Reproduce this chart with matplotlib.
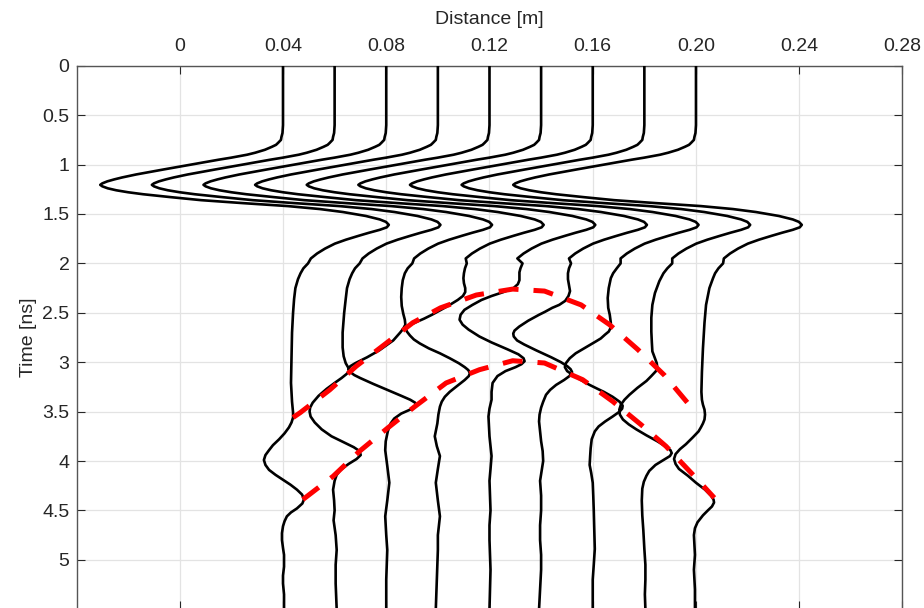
import numpy as np
import matplotlib.pyplot as plt

plt.rcParams['font.family'] = ['Liberation Sans', 'DejaVu Sans']

# antenna positions of the nine traces (m)
trace_pos = [0.04, 0.06, 0.08, 0.10, 0.12, 0.14, 0.16, 0.18, 0.20]

# direct wave, the same on every trace: time (ns) and wiggle offset (mm)
direct_t = [0.00, 0.60, 0.68, 0.72, 0.75, 0.78, 0.80, 0.82, 0.85, 0.88,
            0.90, 0.93, 0.95, 0.98, 1.00, 1.05, 1.10, 1.13, 1.15, 1.17,
            1.19, 1.205, 1.22, 1.24, 1.26, 1.28, 1.30, 1.33, 1.36, 1.39,
            1.42, 1.45, 1.48, 1.52, 1.555, 1.58, 1.61, 1.635, 1.66, 1.69,
            1.72, 1.76, 1.80, 1.85, 1.90, 1.95]
direct_mm = [0.0, 0.0, -0.2, -0.6, -0.8, -1.9, -2.7, -4.3, -7.0, -10.8,
             -13.9, -20.1, -24.8, -31.3, -35.6, -46.4, -56.9, -62.3, -65.4, -68.1,
             -70.0, -70.8, -70.0, -67.9, -64.6, -60.0, -54.2, -43.3, -31.7, -15.5,
             1.9, 14.3, 23.2, 32.1, 37.5, 39.9, 41.0, 40.2, 37.5, 33.3,
             29.4, 24.4, 20.1, 16.3, 13.2, 10.8]

# late part of each trace (t >= 2 ns), with the reflections
late_t = [
    [2.00, 2.05, 2.10, 2.16, 2.25, 2.36, 2.50, 2.70, 2.95, 3.21, 3.40, 3.51, 3.56, 3.61, 3.66,
     3.72, 3.78, 3.84, 3.89, 3.94, 3.99, 4.04, 4.09, 4.14, 4.19, 4.24, 4.29, 4.34, 4.39, 4.43,
     4.48, 4.52, 4.56, 4.61, 4.66, 4.73, 4.80, 4.88, 4.95, 5.07, 5.16, 5.24, 5.35, 5.50],
    [2.00, 2.05, 2.10, 2.16, 2.25, 2.36, 2.50, 2.70, 2.85, 2.94, 3.01, 3.06, 3.09, 3.12, 3.16,
     3.21, 3.27, 3.34, 3.41, 3.46, 3.50, 3.55, 3.61, 3.68, 3.75, 3.81, 3.86, 3.90, 3.94, 3.98,
     4.03, 4.09, 4.14, 4.20, 4.29, 4.40, 4.50, 4.60, 4.75, 4.90, 5.05, 5.24, 5.50],
    [2.00, 2.05, 2.10, 2.17, 2.25, 2.34, 2.43, 2.51, 2.57, 2.62, 2.66, 2.70, 2.78, 2.88, 2.95,
     3.01, 3.04, 3.07, 3.10, 3.13, 3.16, 3.22, 3.28, 3.34, 3.38, 3.41, 3.44, 3.47, 3.52, 3.57,
     3.62, 3.70, 3.80, 3.89, 4.05, 4.22, 4.40, 4.56, 4.75, 4.90, 5.20, 5.50],
    [2.00, 2.05, 2.10, 2.15, 2.20, 2.25, 2.29, 2.33, 2.37, 2.42, 2.47, 2.52, 2.56, 2.60, 2.63,
     2.66, 2.69, 2.73, 2.77, 2.81, 2.86, 2.91, 2.96, 3.01, 3.05, 3.08, 3.11, 3.14, 3.18, 3.25,
     3.30, 3.35, 3.40, 3.45, 3.53, 3.62, 3.75, 3.85, 3.95, 4.08, 4.22, 4.40, 4.56, 4.75, 4.90,
     5.20, 5.50],
    [2.00, 2.05, 2.09, 2.13, 2.17, 2.21, 2.25, 2.29, 2.33, 2.37, 2.42, 2.47, 2.52, 2.57, 2.62,
     2.67, 2.74, 2.80, 2.87, 2.92, 2.96, 2.99, 3.02, 3.05, 3.09, 3.14, 3.21, 3.30, 3.38, 3.47,
     3.55, 3.65, 3.75, 3.85, 3.95, 4.08, 4.20, 4.35, 4.50, 4.65, 4.80, 5.10, 5.50],
    [2.00, 2.05, 2.10, 2.16, 2.22, 2.28, 2.33, 2.38, 2.42, 2.45, 2.49, 2.52, 2.58, 2.64, 2.68,
     2.71, 2.74, 2.78, 2.82, 2.88, 2.95, 3.00, 3.04, 3.07, 3.10, 3.14, 3.18, 3.23, 3.28, 3.33,
     3.40, 3.46, 3.53, 3.60, 3.70, 3.80, 3.90, 4.00, 4.10, 4.20, 4.35, 4.50, 4.65, 4.80, 4.95,
     5.10, 5.30, 5.50],
    [2.00, 2.05, 2.10, 2.15, 2.25, 2.35, 2.45, 2.52, 2.60, 2.65, 2.69, 2.72, 2.76, 2.79, 2.85,
     2.91, 2.96, 3.01, 3.05, 3.09, 3.13, 3.18, 3.23, 3.27, 3.30, 3.35, 3.40, 3.44, 3.47, 3.50,
     3.55, 3.60, 3.65, 3.70, 3.78, 3.87, 3.95, 4.04, 4.12, 4.22, 4.35, 4.50, 4.70, 4.89, 5.05,
     5.20, 5.50],
    [2.00, 2.05, 2.10, 2.18, 2.30, 2.42, 2.55, 2.69, 2.80, 2.89, 2.96, 3.01, 3.05, 3.09, 3.14,
     3.19, 3.26, 3.33, 3.38, 3.43, 3.48, 3.53, 3.58, 3.63, 3.68, 3.74, 3.80, 3.85, 3.89, 3.92,
     3.95, 3.99, 4.04, 4.10, 4.15, 4.21, 4.28, 4.40, 4.55, 4.70, 4.89, 5.05, 5.20, 5.35, 5.50],
    [2.00, 2.05, 2.10, 2.15, 2.25, 2.42, 2.60, 2.86, 3.10, 3.30, 3.38, 3.43, 3.48, 3.53, 3.58,
     3.62, 3.66, 3.70, 3.76, 3.83, 3.88, 3.93, 3.98, 4.03, 4.08, 4.15, 4.22, 4.29, 4.35, 4.39,
     4.42, 4.46, 4.50, 4.55, 4.62, 4.68, 4.75, 4.85, 4.95, 5.10, 5.30, 5.50],
]
late_mm = [
    [9.7, 7.9, 6.8, 5.8, 4.8, 4.3, 3.9, 3.5, 3.3, 3.1, 3.5, 3.9, 3.9, 3.3, 2.3,
     0.6, -1.5, -3.9, -5.4, -6.8, -7.4, -6.8, -5.4, -2.9, 0.0, 2.9, 5.4, 7.4, 8.1, 7.5,
     5.4, 3.1, 1.5, 0.6, 0.0, -0.4, -0.4, 0.0, 0.4, 0.4, 0.0, 0.0, 0.4, 0.4],
    [9.7, 7.9, 6.8, 5.8, 4.8, 4.3, 3.7, 3.1, 3.1, 3.5, 4.3, 5.4, 5.6, 4.6, 2.7,
     0.0, -3.1, -6.2, -8.5, -9.5, -9.7, -9.3, -7.7, -5.0, -1.2, 3.5, 7.4, 9.7, 10.1, 8.5,
     5.4, 2.3, 0.8, 0.0, -0.6, -0.2, 0.0, -0.4, 0.4, 0.8, 0.4, 0.4, 0.8],
    [10.1, 8.3, 7.2, 6.4, 6.0, 5.8, 6.0, 6.6, 7.2, 7.4, 6.6, 5.4, 2.7, -2.7, -7.4,
     -12.0, -13.9, -14.7, -13.9, -12.4, -10.1, -5.0, 0.4, 5.8, 9.3, 11.2, 11.6, 10.1, 5.8, 3.1,
     1.7, 0.6, -0.2, -0.4, 0.4, 1.2, 0.4, -0.4, 0.0, 0.4, 0.0, 0.0],
    [11.2, 10.5, 10.1, 9.9, 10.1, 10.6, 10.6, 9.7, 7.7, 4.6, 1.2, -2.3, -5.4, -8.9, -11.2,
     -12.4, -12.0, -10.8, -9.3, -7.0, -3.5, 0.8, 4.6, 8.1, 10.4, 11.8, 12.4, 12.0, 10.4, 7.0,
     4.6, 2.7, 1.5, 0.8, 0.2, -0.2, -1.2, -0.4, 0.8, 0.0, -0.8, 0.0, 0.8, 0.0, 0.0,
     -0.4, -0.8],
    [12.8, 12.0, 11.6, 11.6, 11.6, 11.0, 9.3, 5.4, 0.8, -3.1, -6.6, -9.7, -11.2, -11.6, -10.4,
     -8.1, -3.9, 0.8, 7.0, 11.2, 13.2, 13.6, 12.4, 10.1, 6.2, 3.1, 1.2, 0.8, 0.8, 0.0,
     -0.4, -0.2, 0.0, 0.4, 0.8, 0.4, 0.0, 0.2, 0.4, 0.0, 0.0, 0.4, 0.0],
    [11.6, 10.8, 10.4, 10.4, 10.8, 11.2, 10.6, 9.3, 7.0, 4.3, 1.5, -0.8, -5.0, -8.5, -10.3,
     -10.8, -10.6, -9.3, -6.6, -1.9, 3.9, 7.7, 10.1, 11.4, 12.0, 11.0, 8.9, 5.8, 3.5, 1.9,
     0.8, 0.0, -0.6, -0.8, -0.4, 0.0, 0.6, 0.8, 0.2, -0.4, 0.0, 0.0, -0.4, -0.4, 0.0,
     0.0, -0.4, -0.8],
    [10.8, 9.3, 7.9, 7.0, 6.2, 5.8, 6.0, 6.6, 7.0, 7.0, 6.2, 4.8, 3.1, 1.2, -2.7,
     -6.6, -8.9, -10.4, -10.8, -9.9, -7.7, -4.6, -1.2, 1.9, 4.3, 7.7, 10.4, 11.6, 11.4, 10.4,
     7.7, 4.8, 2.3, 0.8, -0.4, -0.8, -1.0, -1.2, -0.6, 0.0, 0.2, 0.4, 0.6, 0.8, 0.4,
     0.0, 0.0],
    [10.8, 8.9, 7.4, 5.8, 4.1, 3.1, 2.7, 2.7, 2.9, 3.1, 4.1, 4.8, 5.0, 4.5, 2.7,
     0.8, -2.7, -5.8, -7.7, -9.1, -9.7, -9.5, -8.3, -6.0, -3.1, 0.8, 5.0, 8.1, 10.1, 10.6,
     9.9, 7.4, 4.3, 1.9, 0.8, -0.2, -0.8, -1.0, -0.8, -0.4, 0.0, 0.4, 0.4, 0.2, 0.4],
    [10.5, 8.7, 7.4, 6.6, 5.2, 3.9, 3.3, 2.7, 2.3, 2.1, 2.3, 2.7, 3.3, 3.5, 3.3,
     2.7, 1.9, 1.0, -1.2, -3.9, -6.2, -7.9, -8.5, -7.9, -6.6, -3.1, 0.0, 3.5, 5.8, 6.8,
     7.0, 6.2, 4.6, 2.7, 0.6, -0.4, -0.8, -0.6, -0.4, -0.8, -0.4, -0.4],
]

# picked reflection hyperbolas (distance m, time ns)
upper_x = [0.0439, 0.0467, 0.0581, 0.0684, 0.0794, 0.0903, 0.1010, 0.1149,
           0.1290, 0.1413, 0.1555, 0.1665, 0.1774, 0.1877, 0.1967, 0.1987]
upper_t = [3.56, 3.51, 3.28, 3.04, 2.82, 2.60, 2.45, 2.32,
           2.26, 2.28, 2.42, 2.62, 2.87, 3.13, 3.41, 3.48]
lower_x = [0.0477, 0.0594, 0.0697, 0.0806, 0.0910, 0.1032, 0.1161, 0.1290,
           0.1413, 0.1561, 0.1677, 0.1787, 0.1884, 0.2006, 0.2071]
lower_t = [4.39, 4.155, 3.90, 3.665, 3.45, 3.21, 3.076, 2.985,
           3.008, 3.177, 3.396, 3.632, 3.851, 4.188, 4.373]

xtick_vals = [0, 0.04, 0.08, 0.12, 0.16, 0.20, 0.24, 0.28]
xtick_labels = ['0', '0.04', '0.08', '0.12', '0.16', '0.20', '0.24', '0.28']
ytick_vals = [0, 0.5, 1, 1.5, 2, 2.5, 3, 3.5, 4, 4.5, 5]
ytick_labels = ['0', '0.5', '1', '1.5', '2', '2.5', '3', '3.5', '4', '4.5', '5']

fig = plt.figure(figsize=(9.24, 6.08), dpi=100)
ax = fig.add_axes([0.0828, -0.002, 0.8939, 0.8938])

for i, pos in enumerate(trace_pos):
    t = np.array(direct_t + late_t[i])
    x = pos + np.array(direct_mm + late_mm[i]) / 1000.0
    ax.plot(x, t, color='black', lw=1.9, solid_joinstyle='round', zorder=3)

dash_style = (0, (4.0, 3.0))
ax.plot(upper_x, upper_t, color='red', lw=3.6, linestyle=dash_style, zorder=4)
ax.plot(lower_x, lower_t, color='red', lw=3.6, linestyle=dash_style, zorder=4)

ax.set_xlim(-0.04, 0.28)
ax.set_ylim(5.5, 0)
ax.set_xticks(xtick_vals)
ax.set_xticklabels(xtick_labels)
ax.set_yticks(ytick_vals)
ax.set_yticklabels(ytick_labels)
ax.xaxis.set_label_position('top')
ax.set_xlabel('Distance [m]', fontsize=14, color='#262626', labelpad=10)
ax.set_ylabel('Time [ns]', fontsize=14, color='#262626', labelpad=4)

ax.tick_params(axis='both', direction='in', length=6, width=0.8, colors='#262626',
               labelsize=14, top=True, bottom=True, left=True, right=True,
               labeltop=True, labelbottom=False)
ax.tick_params(axis='x', pad=7.5)
ax.tick_params(axis='y', pad=5)
ax.grid(True, color='#e3e3e3', lw=0.9)
ax.set_axisbelow(True)
for s in ax.spines.values():
    s.set_color('#555555')
    s.set_linewidth(1.0)

fig.savefig('out.png', dpi=100)
